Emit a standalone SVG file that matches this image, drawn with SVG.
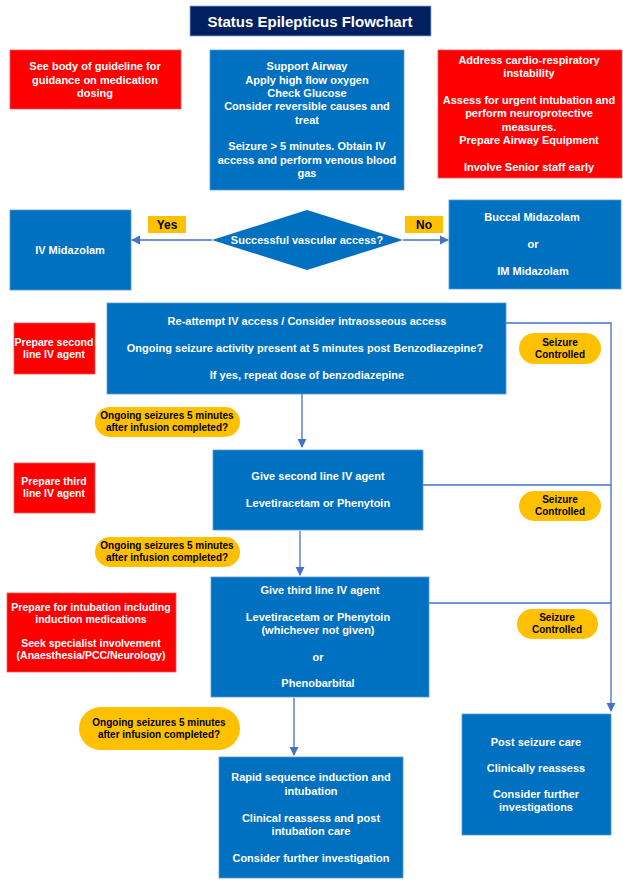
<svg xmlns="http://www.w3.org/2000/svg" width="623" height="885" viewBox="0 0 623 885">
<style>
text{font-family:"Liberation Sans",Arial,sans-serif;font-weight:bold;font-size:11px;text-anchor:middle}
.b{fill:#0070C0;stroke:#5B9BD5;stroke-width:0.8}
.r{fill:#FF0000;stroke:#E06060;stroke-width:0.8}
.p{fill:#FFC000}
.w{fill:#fff}
.k{fill:#000}
.c{fill:none;stroke:#4472C4;stroke-width:1.3}
</style>
<defs><marker id="a" viewBox="0 0 10 10" refX="9" refY="5" markerWidth="7" markerHeight="7" orient="auto"><path d="M0,0L10,5L0,10z" fill="#4472C4"/></marker></defs>
<rect width="623" height="885" fill="#fff"/>
<g id="connectors">
<path class="c" d="M212,240H132" marker-end="url(#a)"/>
<path class="c" d="M403,240H448" marker-end="url(#a)"/>
<path class="c" d="M302,394V447" marker-end="url(#a)"/>
<path class="c" d="M300,531V575" marker-end="url(#a)"/>
<path class="c" d="M294,698V755" marker-end="url(#a)"/>
<path class="c" d="M506,323H611V711" marker-end="url(#a)"/>
<path class="c" d="M423,485H611"/>
<path class="c" d="M429,603H611"/>
</g>
<g id="title"><rect x="190" y="6" width="241" height="30" fill="#002060" stroke="#8FAADC" stroke-width="0.8"/><text x="310" y="27" class="w" style="font-size:15px">Status Epilepticus Flowchart</text></g>
<g id="n1"><rect class="r" x="10" y="50" width="171" height="59"/><text class="w" x="95" y="70">See body of guideline for</text><text class="w" x="95" y="84">guidance on medication</text><text class="w" x="95" y="97">dosing</text></g>
<g id="n2"><rect class="b" x="210" y="50" width="194" height="140"/>
<text class="w" x="307" y="70">Support Airway</text><text class="w" x="307" y="84">Apply high flow oxygen</text><text class="w" x="307" y="97">Check Glucose</text><text class="w" x="307" y="110">Consider reversible causes and</text><text class="w" x="307" y="124">treat</text><text class="w" x="307" y="150">Seizure &gt; 5 minutes. Obtain IV</text><text class="w" x="307" y="164">access and perform venous blood</text><text class="w" x="307" y="177">gas</text></g>
<g id="n3"><rect class="r" x="438" y="50" width="184" height="128"/>
<text class="w" x="529" y="64">Address cardio-respiratory</text><text class="w" x="529" y="77">instability</text><text class="w" x="529" y="104">Assess for urgent intubation and</text><text class="w" x="529" y="117">perform neuroprotective</text><text class="w" x="529" y="131">measures.</text><text class="w" x="529" y="144">Prepare Airway Equipment</text><text class="w" x="529" y="171">Involve Senior staff early</text></g>
<g id="n4"><rect class="b" x="10" y="210" width="121" height="80"/><text class="w" x="70" y="254">IV Midazolam</text></g>
<g id="n5"><path d="M307,210L403,240L307,270L212,240z" fill="#0070C0"/><text class="w" x="307" y="244">Successful vascular access?</text></g>
<g id="yes"><rect x="148" y="216" width="38" height="17" fill="#FFC000"/><text class="k" x="167" y="229" style="font-size:12px">Yes</text></g>
<g id="no"><rect x="405" y="216" width="38" height="17" fill="#FFC000"/><text class="k" x="424" y="229" style="font-size:12px">No</text></g>
<g id="n6"><rect class="b" x="449" y="200" width="172" height="89"/><text class="w" x="532" y="221">Buccal Midazolam</text><text class="w" x="533" y="248">or</text><text class="w" x="533" y="275">IM Midazolam</text></g>
<g id="n7"><rect class="b" x="107" y="303" width="399" height="91"/><text class="w" x="307" y="325">Re-attempt IV access / Consider intraosseous access</text><text class="w" x="305" y="352">Ongoing seizure activity present at 5 minutes post Benzodiazepine?</text><text class="w" x="307" y="379">If yes, repeat dose of benzodiazepine</text></g>
<g id="n8"><rect class="r" x="14" y="323" width="81" height="51"/><text class="w" x="54" y="346" style="font-size:10.5px">Prepare second</text><text class="w" x="54" y="358" style="font-size:10.5px">line IV agent</text></g>
<g id="s1"><rect class="p" x="519" y="333" width="82" height="31" rx="15.5"/><text class="k" x="560" y="346" style="font-size:10px">Seizure</text><text class="k" x="560" y="358" style="font-size:10px">Controlled</text></g>
<g id="o1"><rect class="p" x="95" y="407" width="145" height="30" rx="15"/><text class="k" x="167" y="419" style="font-size:10px">Ongoing seizures 5 minutes</text><text class="k" x="167" y="431" style="font-size:10px">after infusion completed?</text></g>
<g id="n9"><rect class="b" x="213" y="450" width="210" height="80"/><text class="w" x="318" y="480">Give second line IV agent</text><text class="w" x="318" y="507">Levetiracetam or Phenytoin</text></g>
<g id="n10"><rect class="r" x="14" y="463" width="81" height="50"/><text class="w" x="54" y="485" style="font-size:10.5px">Prepare third</text><text class="w" x="54" y="497" style="font-size:10.5px">line IV agent</text></g>
<g id="s2"><rect class="p" x="519" y="491" width="82" height="30" rx="15"/><text class="k" x="560" y="503" style="font-size:10px">Seizure</text><text class="k" x="560" y="515" style="font-size:10px">Controlled</text></g>
<g id="o2"><rect class="p" x="95" y="537" width="145" height="30" rx="15"/><text class="k" x="167" y="549" style="font-size:10px">Ongoing seizures 5 minutes</text><text class="k" x="167" y="561" style="font-size:10px">after infusion completed?</text></g>
<g id="n11"><rect class="b" x="211" y="577" width="218" height="120"/><text class="w" x="320" y="594">Give third line IV agent</text><text class="w" x="318" y="621">Levetiracetam or Phenytoin</text><text class="w" x="318" y="634">(whichever not given)</text><text class="w" x="318" y="661">or</text><text class="w" x="318" y="687">Phenobarbital</text></g>
<g id="n12"><rect class="r" x="7" y="593" width="169" height="79"/><text class="w" x="91" y="611" style="font-size:10.5px">Prepare for intubation including</text><text class="w" x="91" y="623" style="font-size:10.5px">induction medications</text><text class="w" x="91" y="647" style="font-size:10.5px">Seek specialist involvement</text><text class="w" x="91" y="659" style="font-size:10.5px">(Anaesthesia/PCC/Neurology)</text></g>
<g id="s3"><rect class="p" x="517" y="609" width="81" height="30" rx="15"/><text class="k" x="557" y="621" style="font-size:10px">Seizure</text><text class="k" x="557" y="633" style="font-size:10px">Controlled</text></g>
<g id="o3"><rect class="p" x="79" y="707" width="161" height="43" rx="21.5"/><text class="k" x="159" y="726" style="font-size:10px">Ongoing seizures 5 minutes</text><text class="k" x="159" y="738" style="font-size:10px">after infusion completed?</text></g>
<g id="n13"><rect class="b" x="462" y="714" width="149" height="121"/><text class="w" x="536" y="746">Post seizure care</text><text class="w" x="536" y="772">Clinically reassess</text><text class="w" x="536" y="798">Consider further</text><text class="w" x="536" y="811">investigations</text></g>
<g id="n14"><rect class="b" x="219" y="757" width="184" height="121"/><text class="w" x="311" y="781">Rapid sequence induction and</text><text class="w" x="311" y="795">intubation</text><text class="w" x="311" y="822">Clinical reassess and post</text><text class="w" x="311" y="835">intubation care</text><text class="w" x="311" y="862">Consider further investigation</text></g>
</svg>
